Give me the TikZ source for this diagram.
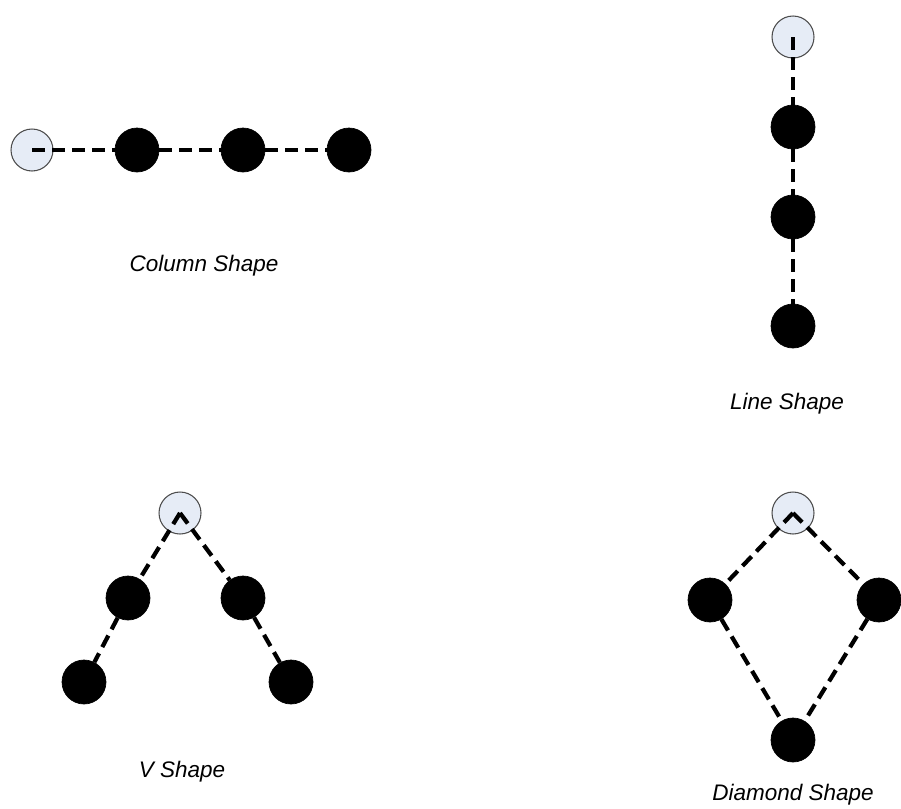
\documentclass[tikz,border=0pt]{standalone}
\usepackage{fontspec}
\setmainfont{Liberation Sans}
\usepackage{tikz}
\usepackage{xcolor}
\definecolor{lead}{HTML}{E6ECF6}
\tikzset{lead/.style={draw=black!70,fill=lead,circle,line width=0.6pt,minimum size=0.84cm,inner sep=0pt}}
\tikzset{member/.style={draw=black,fill=black,circle,minimum size=0.88cm,inner sep=0pt}}
\tikzset{link/.style={black,line width=2.4pt,dash pattern=on 7.4pt off 4pt}}
\tikzset{caption/.style={font=\fontsize{12.8}{15}\selectfont\itshape}}

\begin{document}
\begin{tikzpicture}[x=0.02cm,y=-0.02cm]
    \useasboundingbox (0,0) rectangle (901,808);

    % column
    \node[lead] (cl) at (32,150) {};
    \node[member] (c1) at (137,150) {};
    \node[member] (c2) at (243,150) {};
    \node[member] (c3) at (349,150) {};
    \node[caption] (ct) at (204,266) {Column Shape};

    % line
    \node[lead] (ll) at (793,37) {};
    \node[member] (l1) at (793,127) {};
    \node[member] (l2) at (793,217) {};
    \node[member] (l3) at (793,326) {};
    \node[caption] (lt) at (787,404) {Line Shape};

    % V
    \node[lead] (vl) at (180,513) {};
    \node[member] (v1) at (128,598) {};
    \node[member] (v2) at (243,598) {};
    \node[member] (v3) at (84,682) {};
    \node[member] (v4) at (291,682) {};
    \node[caption] (vt) at (182,772) {V Shape};

    % diamond
    \node[lead] (dl) at (793,513) {};
    \node[member] (d1) at (710,600) {};
    \node[member] (d2) at (879,600) {};
    \node[member] (d3) at (793,740) {};
    \node[caption] (dt) at (793,795) {Diamond Shape};

    \draw[link] (cl.center) to (c1);
    \draw[link] (c1) to (c2);
    \draw[link] (c2) to (c3);

    \draw[link] (ll.center) to (l1);
    \draw[link] (l1) to (l2);
    \draw[link] (l2) to (l3);

    \draw[link] (vl.center) to (v1);
    \draw[link] (vl.center) to (v2);
    \draw[link] (v1) to (v3);
    \draw[link] (v2) to (v4);

    \draw[link] (dl.center) to (d1);
    \draw[link] (dl.center) to (d2);
    \draw[link] (d1) to (d3);
    \draw[link] (d2) to (d3);
\end{tikzpicture}
\end{document}
